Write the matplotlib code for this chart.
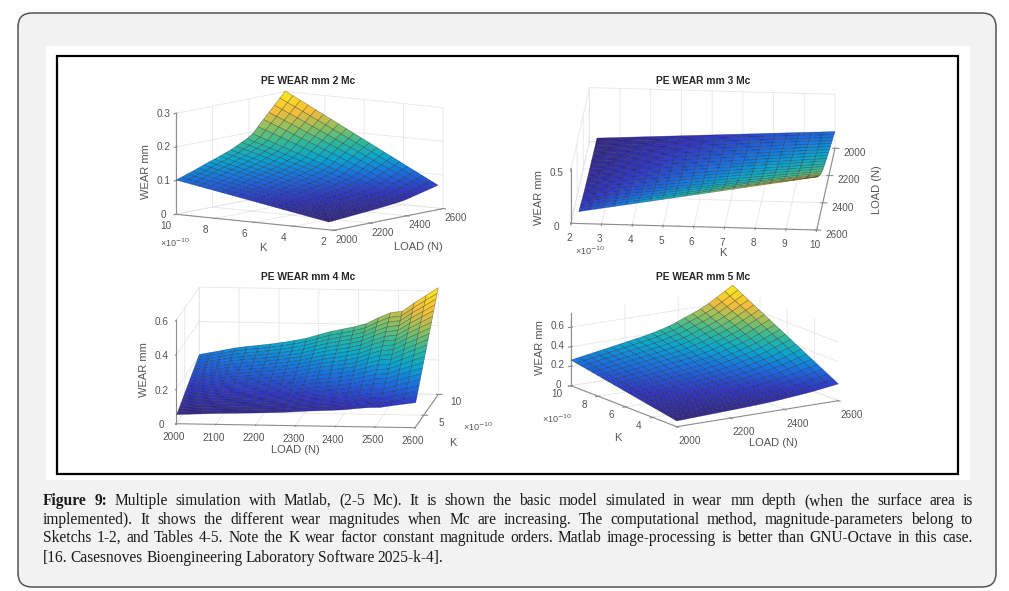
import numpy as np
import matplotlib
matplotlib.use('Agg')
import matplotlib.pyplot as plt
from matplotlib.colors import LinearSegmentedColormap
from matplotlib.patches import FancyBboxPatch, Rectangle

# load grid and K grid of the surfaces (K in units of 1e-10)
load_n = [2000, 2030, 2060, 2090, 2120, 2150, 2180, 2210, 2240, 2270, 2300,
          2330, 2360, 2390, 2420, 2450, 2480, 2510, 2540, 2570, 2600]
k_vals = [2.25, 2.64, 3.03, 3.41, 3.8, 4.19, 4.58, 4.96, 5.35, 5.74, 6.13,
          6.51, 6.9, 7.29, 7.68, 8.06, 8.45, 8.84, 9.23, 9.61, 10.0]

# wear along the K=10 edge
wear_2mc = [.102, .107, .113, .118, .124, .13, .136, .141, .147, .153, .159,
            .167, .175, .183, .194, .212, .23, .248, .266, .284, .302]
wear_3mc = [.155, .165, .175, .185, .195, .205, .215, .225, .235, .245, .26,
            .27, .285, .30, .315, .335, .36, .39, .42, .455, .49]
wear_4mc = [.209, .222, .236, .25, .26, .268, .277, .287, .30, .314, .335,
            .355, .37, .385, .405, .44, .47, .48, .53, .575, .62]
wear_5mc = [.263, .277, .291, .305, .318, .332, .346, .36, .374, .388, .405,
            .425, .447, .475, .51, .54, .575, .615, .665, .715, .765]

parula = LinearSegmentedColormap.from_list('parula', [
    (0.0, '#352a87'), (0.14, '#3138c4'), (0.29, '#1a6fe0'), (0.43, '#0aa5cf'),
    (0.57, '#2eb89a'), (0.71, '#8cc060'), (0.86, '#f5bd3a'), (1.0, '#f9e020')])

W, H = 1009, 591
plt.rcParams['font.family'] = ['Liberation Sans', 'DejaVu Sans']
fig = plt.figure(figsize=(W / 100, H / 100), dpi=100, facecolor='white')

page = fig.add_axes([0, 0, 1, 1], zorder=0)
page.set_xlim(0, W)
page.set_ylim(H, 0)
page.axis('off')
page.add_patch(FancyBboxPatch((18, 13), 978, 574, boxstyle='round,pad=0,rounding_size=1',
                              mutation_scale=14, fc='#f2f2f2', ec='#555555', lw=1.1))
page.add_patch(Rectangle((46, 46), 924, 434, fc='white', ec='none'))
page.add_patch(Rectangle((57, 55.5), 901, 418.5, fc='white', ec='black', lw=1.6))


def surface_panel(wear, origin, load_vec, k_vec, z_px, zlim, xticks, yticks, zticks,
                  ylim=(2, 10), pads=(-3, -3, -3), zside=None):
    # load_vec, k_vec: screen pixels (x right, y up) spanned by the axis limits
    ux, vx = load_vec
    uy, vy = k_vec
    sin_e = np.sqrt(-(vx / ux) * (vy / uy))
    tan_a = abs(sin_e / (vx / ux))
    a = np.arctan2(-np.sign(ux) * tan_a, np.sign(uy))
    e = np.arcsin(sin_e)
    bx = ux / -np.sin(a)
    by = uy / np.cos(a)
    bz = z_px / np.cos(e)
    size = np.linalg.norm([bx, by, bz]) / (1.8294640721620434 * 25 / 24 / 1.85)
    cx = origin[0] + 0.5 * (ux + uy)
    cy = H - origin[1] + 0.5 * (vx + vy + z_px)
    frac = 0.95 / 1.85
    ax = fig.add_axes([(cx - frac * size) / W, (cy - frac * size) / H, size / W, size / H],
                      projection='3d', zorder=1, proj_type='ortho')
    ax.patch.set_alpha(0)
    ax.view_init(elev=np.degrees(e), azim=np.degrees(a))
    ax.set_box_aspect((bx, by, bz))

    xx, yy = np.meshgrid(load_n, k_vals)
    zz = np.outer(np.array(k_vals) / 10, wear)
    ax.plot_surface(xx, yy, zz, cmap=parula, rstride=1, cstride=1, shade=False,
                    edgecolor=(0.05, 0.05, 0.1, 0.42), linewidth=0.4)
    ax.set_xlim(2000, 2600, view_margin=0)
    ax.set_ylim(*ylim, view_margin=0)
    ax.set_zlim(*zlim, view_margin=0)
    ax.set_xticks(xticks)
    ax.set_yticks(yticks)
    ax.set_zticks(zticks)
    ax.set_zticklabels([f'{t:g}' for t in zticks])
    for axis, pad in zip((ax.xaxis, ax.yaxis, ax.zaxis), pads):
        axis.set_pane_color((1, 1, 1, 0))
        axis.pane.set_edgecolor('#e6e6e6')
        axis.line.set_color('#8c8c8c')
        axis.line.set_linewidth(0.8)
        axis._axinfo['grid'].update(color='#e6e6e6', linewidth=0.6)
        axis.set_tick_params(labelsize=7.2, labelcolor='#555555', color='#8c8c8c', pad=pad)
        for lab in axis.get_ticklabels():
            lab.set_va('center')
    if zside:
        ax.zaxis.set_ticks_position(zside)
    return ax


surface_panel(wear_2mc, (333.7, 230.3), (109.3, 21.7), (-157.7, 16), 101, (0, 0.3),
              [2000, 2200, 2400, 2600], [2, 4, 6, 8, 10], [0, 0.1, 0.2, 0.3],
              pads=(0.5, 2, -3))
surface_panel(wear_3mc, (589.3, 141.6), (-18.3, -81.7), (245.7, -6.7), 54, (0, 0.5),
              [2000, 2200, 2400, 2600], [2, 3, 4, 5, 6, 7, 8, 9, 10], [0, 0.5],
              pads=(2, 6, -1))
surface_panel(wear_4mc, (176, 423.7), (239, -4), (23.3, 33.3), 103.3, (0, 0.6),
              [2000, 2100, 2200, 2300, 2400, 2500, 2600], [5, 10], [0, 0.2, 0.4, 0.6],
              pads=(4, 1, -1), zside='lower')
surface_panel(wear_5mc, (676.7, 426.7), (161.7, 26), (-105.7, 41), 73.1, (0, 0.75),
              [2000, 2200, 2400, 2600], [4, 6, 8, 10], [0, 0.2, 0.4, 0.6], ylim=(2.25, 10),
              pads=(5, 1, -3))

# titles and axis labels, page pixel positions
label_col = '#555555'
for x, y, t in [(308, 81, 'PE WEAR mm 2 Mc'), (703, 81, 'PE WEAR mm 3 Mc'),
                (308, 277, 'PE WEAR mm 4 Mc'), (703, 277, 'PE WEAR mm 5 Mc')]:
    page.text(x, y, t, ha='center', va='center', fontsize=7.4, fontweight='bold', color='#262626')
for x, y, t, rot in [(146, 172, 'WEAR mm', 90), (263, 248, 'K', 0), (418, 247, 'LOAD (N)', 0),
                     (539, 198, 'WEAR mm', 90), (723, 253, 'K', 0), (877, 190, 'LOAD (N)', 90),
                     (144, 370, 'WEAR mm', 90), (295, 450, 'LOAD (N)', 0), (453, 443, 'K', 0),
                     (540, 348, 'WEAR mm', 90), (773, 443, 'LOAD (N)', 0), (618, 438, 'K', 0)]:
    page.text(x, y, t, ha='center', va='center', rotation=rot, fontsize=8, color=label_col)
for x, y in [(175, 243), (590, 251), (478, 427), (557, 419)]:
    page.text(x, y, '×10$^{-10}$', ha='center', va='center', fontsize=6.5, color=label_col)

# caption, justified word by word
caption = [
    'Figure 9: Multiple simulation with Matlab, (2-5 Mc). It is shown the basic model simulated in wear mm depth (when the surface area is',
    'implemented). It shows the different wear magnitudes when Mc are increasing. The computational method, magnitude-parameters belong to',
    'Sketchs 1-2, and Tables 4-5. Note the K wear factor constant magnitude orders. Matlab image-processing is better than GNU-Octave in this case.',
    '[16. Casesnoves Bioengineering Laboratory Software 2025-k-4].',
]
line_y = [501, 520, 538, 558]
cap_left, cap_right = 43, 973
renderer = fig.canvas.get_renderer()
for n, (line, y) in enumerate(zip(caption, line_y)):
    words = []
    for i, word in enumerate(line.split(' ')):
        bold = n == 0 and i < 2
        words.append(page.text(0, y, word, va='center', fontsize=11.2, color='#1a1a1a',
                               family=['Liberation Serif'], fontweight='bold' if bold else 'normal'))
    widths = [w.get_window_extent(renderer).width for w in words]
    if n < 3:
        gap = (cap_right - cap_left - sum(widths)) / (len(words) - 1)
    else:
        gap = 3.2
    x = cap_left
    for w, wd in zip(words, widths):
        w.set_x(x)
        x += wd + gap

fig.savefig('out.png', dpi=100)
